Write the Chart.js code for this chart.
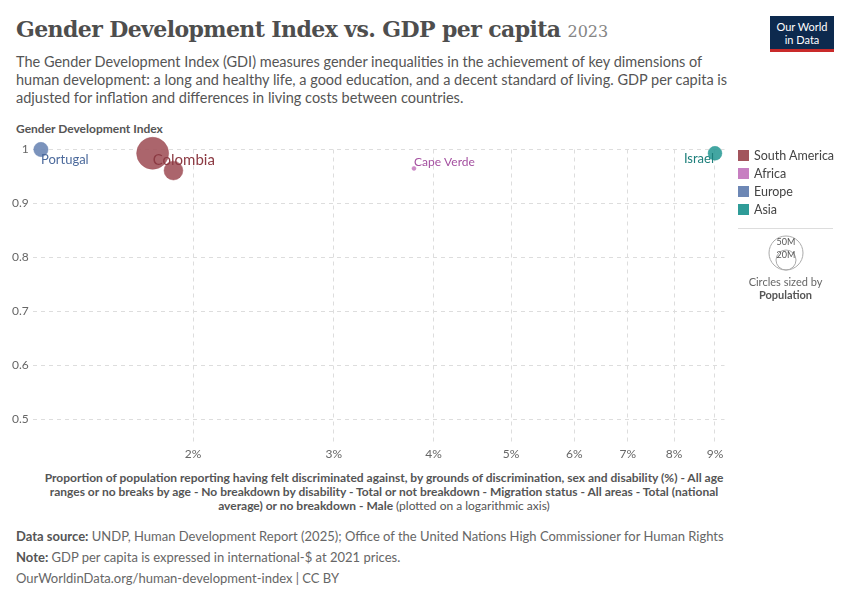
<!DOCTYPE html>
<html>
<head>
<meta charset="utf-8">
<script src="https://cdn.jsdelivr.net/npm/chart.js@4"></script>
<style>
body { margin:0; width:850px; height:600px; background:#fff; font-family:Lato, "Noto Sans", sans-serif; color:#5b5b5b; position:relative; }
h1 { position:absolute; left:16px; top:16px; margin:0; font:600 22px "DejaVu Serif", Georgia, serif; color:#4e4e4e; letter-spacing:-0.6px; }
h1 span { font-size:16px; color:#858585; font-weight:400; letter-spacing:0; }
.sub { position:absolute; left:16px; top:53px; width:728px; font-size:14.5px; line-height:18px; color:#555; }
.logo { position:absolute; right:16px; top:16px; width:64px; height:36px; background:#0d2a4e; color:#fff; font-size:11px; line-height:13px; text-align:center; padding-top:4px; box-sizing:border-box; border-bottom:3px solid #c92a2a; }
.ytitle { position:absolute; left:16px; top:121px; font-size:12px; font-weight:700; color:#555; }
#wrap { position:absolute; left:0; top:133px; width:741px; height:331px; }
.xtitle { position:absolute; left:40px; width:688px; top:471px; text-align:center; font-size:12px; line-height:14px; font-weight:700; color:#555; }
.xtitle span { font-weight:400; }
.legend { position:absolute; left:738px; top:148px; font-size:12.5px; color:#444; }
.legend div { margin-bottom:3px; }
.legend i { display:inline-block; width:11px; height:11px; margin-right:5px; vertical-align:-1px; }
.size { position:absolute; left:738px; top:228px; width:95px; border-top:1px solid #ddd; text-align:center; font-size:11px; color:#666; padding-top:4px; }
.foot { position:absolute; left:16px; top:526px; font-size:13px; line-height:21px; color:#666; }
.foot b { color:#555; }
</style>
</head>
<body>
<h1>Gender Development Index vs. GDP per capita <span>2023</span></h1>
<div class="logo">Our World<br>in Data</div>
<div class="sub">The Gender Development Index (GDI) measures gender inequalities in the achievement of key dimensions of human development: a long and healthy life, a good education, and a decent standard of living. GDP per capita is adjusted for inflation and differences in living costs between countries.</div>
<div class="ytitle">Gender Development Index</div>
<div id="wrap"><canvas id="nuage"></canvas></div>
<div class="legend">
  <div><i style="background:#a2545c"></i>South America</div>
  <div><i style="background:#c77fc1"></i>Africa</div>
  <div><i style="background:#6d87b5"></i>Europe</div>
  <div><i style="background:#2f9c98"></i>Asia</div>
</div>
<div class="size">
  <svg width="40" height="40"><circle cx="20" cy="20" r="17" fill="none" stroke="#aaa"/><circle cx="20" cy="27" r="10" fill="none" stroke="#aaa"/><text x="20" y="12" font-size="9" text-anchor="middle" fill="#555">50M</text><text x="20" y="25" font-size="9" text-anchor="middle" fill="#555">20M</text></svg>
  <div>Circles sized by</div><div style="font-weight:700;color:#555">Population</div>
</div>
<div class="xtitle">Proportion of population reporting having felt discriminated against, by grounds of discrimination, sex and disability (%) - All age ranges or no breaks by age - No breakdown by disability - Total or not breakdown - Migration status - All areas - Total (national average) or no breakdown - Male <span>(plotted on a logarithmic axis)</span></div>
<div class="foot"><b>Data source:</b> UNDP, Human Development Report (2025); Office of the United Nations High Commissioner for Human Rights<br><b>Note:</b> GDP per capita is expressed in international-$ at 2021 prices.<br>OurWorldinData.org/human-development-index | CC BY</div>
<script>
// Données
const pays = ['Portugal', 'Colombia', '', 'Cape Verde', 'Israel'];
const discrimination = [1.29, 1.78, 1.89, 3.78, 9.0];
const gdi = [1.0, 0.993, 0.961, 0.965, 0.993];
const population = [10.4, 52, 18, 0.5, 9.7];
const couleurs = ['#6d87b5', '#a2545c', '#a2545c', '#c77fc1', '#2f9c98'];
const labelCouleurs = ['#4c6a9c', '#8c3a43', '#8c3a43', '#a450a0', '#1d7f7b'];
const xTicks = [2, 3, 4, 5, 6, 7, 8, 9];

const points = discrimination.map((x, i) => ({ x: x, y: gdi[i], r: Math.max(2, 16 * Math.sqrt(population[i] / 52)) }));

// Plugin pour les étiquettes des pays
const etiquettes = {
    id: 'etiquettes',
    afterDatasetsDraw(chart) {
        const ctx = chart.ctx;
        const meta = chart.getDatasetMeta(0);
        ctx.save();
        ctx.textBaseline = 'middle';
        meta.data.forEach((el, i) => {
            if (!pays[i]) return;
            ctx.fillStyle = labelCouleurs[i];
            ctx.font = (i === 1 ? '15px' : i === 3 ? '12px' : '13px') + ' Lato';
            if (i === 4) { ctx.textAlign = 'right'; ctx.fillText(pays[i], el.x - 1, el.y + 6); }
            else if (i === 0) { ctx.textAlign = 'left'; ctx.fillText(pays[i], el.x, el.y + 10); }
            else if (i === 1) { ctx.textAlign = 'left'; ctx.fillText(pays[i], el.x, el.y + 7); }
            else { ctx.textAlign = 'left'; ctx.fillText(pays[i], el.x, el.y - 6); }
        });
        ctx.restore();
    }
};

new Chart(document.getElementById('nuage'), {
    type: 'bubble',
    data: {
        datasets: [{
            data: points,
            backgroundColor: couleurs.map(c => c + 'e6'),
            borderColor: couleurs,
            borderWidth: 0.5
        }]
    },
    options: {
        responsive: true,
        maintainAspectRatio: false,
        animation: false,
        clip: false,
        layout: { padding: { left: 8, top: 0, right: 0 } },
        plugins: { legend: { display: false }, tooltip: { enabled: false } },
        scales: {
            x: {
                type: 'logarithmic',
                min: 1.26, max: 9.25,
                afterBuildTicks: axis => { axis.ticks = xTicks.map(v => ({ value: v })); },
                ticks: { callback: v => v + '%', color: '#666', font: { size: 12, family: 'Lato' }, autoSkip: false, maxRotation: 0 },
                grid: { color: '#ddd', drawTicks: false },
                border: { display: false, dash: [4, 4] }
            },
            y: {
                min: 0.455, max: 1.0,
                afterBuildTicks: axis => { axis.ticks = [0.5, 0.6, 0.7, 0.8, 0.9, 1].map(v => ({ value: v })); },
                ticks: { color: '#666', font: { size: 12, family: 'Lato' }, padding: 4, callback: v => v === 1 ? '1' : v.toFixed(1) },
                grid: { color: '#ddd', drawTicks: false },
                border: { display: false, dash: [4, 4] }
            }
        }
    },
    plugins: [etiquettes]
});
</script>
</body>
</html>
